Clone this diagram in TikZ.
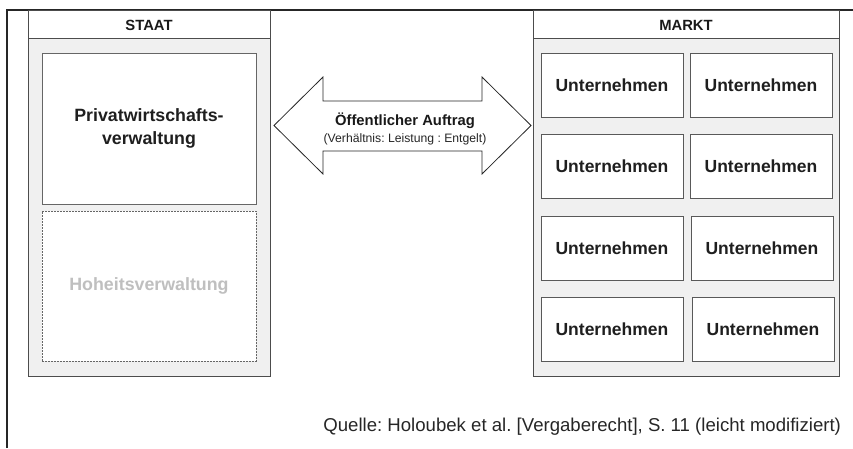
\documentclass[tikz,border=0pt]{standalone}
\usepackage{fontspec}
\setmainfont{Liberation Sans}
\frenchspacing
\begin{document}
\begin{tikzpicture}[x=1pt,y=-1pt,
  every node/.style={inner sep=0pt, outer sep=0pt},
  frameline/.style={draw=black!85, line width=1.3pt},
  container/.style={draw=black!70, fill=black!6, line width=1pt},
  headbox/.style={draw=black!70, fill=white, line width=1pt},
  headtext/.style={font=\bfseries\fontsize{14.8}{17}\selectfont, text=black!90},
  firm/.style={draw=black!65, fill=white, line width=1pt, minimum width=142pt, minimum height=64pt,
    font=\bfseries\fontsize{17.5}{21}\selectfont, text=black!88},
  bigbox/.style={draw=black!60, fill=white, line width=1pt, minimum width=214pt, minimum height=151pt,
    font=\bfseries\fontsize{17.8}{23}\selectfont, align=center},
  dashbox/.style={draw=black!60, dashed, dash pattern=on 2pt off 1pt, fill=white, line width=0.8pt,
    minimum width=214pt, minimum height=150pt, font=\bfseries\fontsize{17.8}{21}\selectfont, text=black!25},
  arrowshape/.style={draw=black!85, fill=white, line width=0.8pt},
]
\useasboundingbox (0,0) rectangle (853,448);
% outer frame
\coordinate (fA) at (7,448);
\coordinate (fB) at (7,10);
\coordinate (fC) at (853,10);
\draw[frameline] (fA) -- (fB) -- (fC);

% STAAT container
\draw[container] (28,38) rectangle (270,376);
\draw[headbox] (28,10) rectangle (270,38);
\node[headtext] (staat) at (149,25) {STAAT};
\node[bigbox, text=black!88] (privat) at (149,128.5) {Privatwirtschafts-\\verwaltung};
\node[dashbox] (hoheit) at (149,286) {Hoheitsverwaltung};

% MARKT container
\draw[container] (533,38) rectangle (839,376);
\draw[headbox] (533,10) rectangle (839,38);
\node[headtext] (markt) at (686,25) {MARKT};

\node[firm] (u11) at (612,85) {Unternehmen};
\node[firm] (u12) at (761,85) {Unternehmen};
\node[firm] (u21) at (612,166.5) {Unternehmen};
\node[firm] (u22) at (761,166.5) {Unternehmen};
\node[firm] (u31) at (612,248.5) {Unternehmen};
\node[firm] (u32) at (762,248.5) {Unternehmen};
\node[firm] (u41) at (612,329) {Unternehmen};
\node[firm] (u42) at (763,329) {Unternehmen};

% double arrow
\draw[arrowshape] (274,125.5) -- (323,77) -- (323,101) -- (482,101) -- (482,77) -- (531,125.5)
  -- (482,174) -- (482,151) -- (323,151) -- (323,174) -- cycle;
\node[font=\bfseries\fontsize{14.8}{17}\selectfont, text=black!90] (auftrag) at (405,121) {Öffentlicher Auftrag};
\node[font=\fontsize{12.2}{14}\selectfont, text=black!85] (verh) at (405,139) {(Verhältnis: Leistung : Entgelt)};

% source
\node[anchor=east, font=\fontsize{18.6}{22}\selectfont, text=black!85] (quelle) at (841,427)
  {Quelle: Holoubek et al. [Vergaberecht], S. 11 (leicht modifiziert)};
\end{tikzpicture}
\end{document}
